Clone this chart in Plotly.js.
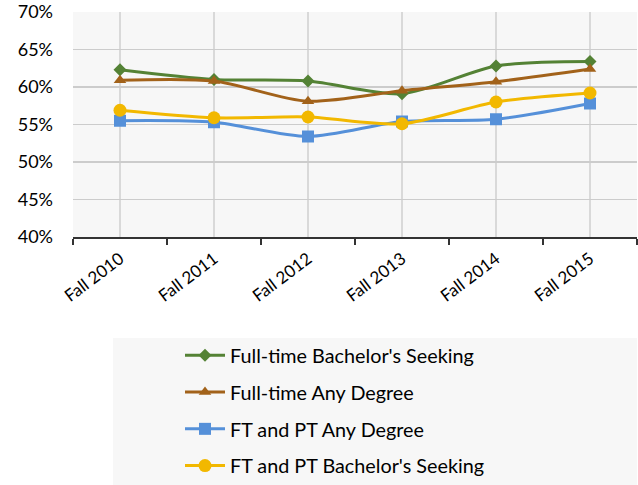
<!DOCTYPE html>
<html>
<head>
<meta charset="utf-8">
<script src="https://cdn.plot.ly/plotly-3.0.1.min.js"></script>
<style>html,body{margin:0;padding:0;background:#fff;}#chart{width:638px;height:485px;}</style>
</head>
<body>
<div id="chart"></div>
<script>
const categories = ["Fall 2010", "Fall 2011", "Fall 2012", "Fall 2013", "Fall 2014", "Fall 2015"];
const ftBachelors = [0.623, 0.610, 0.608, 0.591, 0.628, 0.634];
const ftAnyDegree = [0.609, 0.608, 0.581, 0.595, 0.607, 0.624];
const ftptAnyDegree = [0.555, 0.553, 0.534, 0.554, 0.557, 0.578];
const ftptBachelors = [0.569, 0.559, 0.560, 0.551, 0.580, 0.592];
const yTicks = [0.40, 0.45, 0.50, 0.55, 0.60, 0.65, 0.70];

const idx = categories.map((_, i) => i);
const font = "Lato, 'Open Sans', sans-serif";

function series(name, y, color, symbol, size) {
  return {
    type: 'scatter', mode: 'lines+markers', name: name, x: idx, y: y,
    legendgroup: name,
    line: {color: color, width: 3, shape: 'spline', smoothing: 0.8},
    marker: {color: color, symbol: symbol, size: size},
    hoverinfo: 'x+y'
  };
}

const data = [
  series("Full-time Bachelor's Seeking", ftBachelors, '#548235', 'diamond', 10),
  series("Full-time Any Degree", ftAnyDegree, '#A2621A', 'triangle-up', 11),
  series("FT and PT Any Degree", ftptAnyDegree, '#5590D9', 'square', 12),
  series("FT and PT Bachelor's Seeking", ftptBachelors, '#F2B800', 'circle', 13)
];

const layout = {
  width: 638, height: 485,
  margin: {l: 73, r: 1, t: 12, b: 248, autoexpand: false},
  paper_bgcolor: '#ffffff',
  plot_bgcolor: '#f7f7f7',
  showlegend: true,
  font: {family: font, color: '#000'},
  xaxis: {
    range: [-0.5, 5.5],
    tickmode: 'array', tickvals: idx, ticktext: categories,
    tickangle: -37,
    tickfont: {size: 17, family: font, color: '#000'},
    ticks: '',
    ticklabelstandoff: 4,
    showgrid: true, gridcolor: '#d9d9d9', gridwidth: 1.5,
    showline: true, linecolor: '#333', linewidth: 1.5,
    zeroline: false,
    automargin: false,
    minor: {tickmode: 'linear', tick0: -0.5, dtick: 1, ticks: 'outside', ticklen: 6, tickcolor: '#333', tickwidth: 1.5, showgrid: false}
  },
  yaxis: {
    range: [0.40, 0.70],
    tickmode: 'array', tickvals: yTicks,
    tickformat: '.0%',
    tickfont: {size: 18, family: font, color: '#000'},
    ticks: '',
    ticklabelstandoff: 19,
    showgrid: true, gridcolor: '#cccccc', gridwidth: 1.5,
    zeroline: false, showline: false,
    automargin: false
  },
  shapes: [{
    type: 'rect', xref: 'paper', yref: 'paper',
    x0: (113 - 73) / 564, x1: 1.0, y0: (237 - 338) / 225, y1: (237 - 487) / 225,
    fillcolor: '#f7f7f7', line: {width: 0}, layer: 'below'
  }],
  legend: {
    x: (180 - 73) / 564, xanchor: 'left',
    y: (237 - 336) / 225, yanchor: 'top',
    bgcolor: 'rgba(0,0,0,0)',
    font: {size: 19.8, family: font, color: '#000'},
    itemwidth: 40,
    tracegroupgap: 8,
    traceorder: 'grouped'
  }
};

Plotly.newPlot('chart', data, layout, {displayModeBar: false, staticPlot: true});
</script>
</body>
</html>
